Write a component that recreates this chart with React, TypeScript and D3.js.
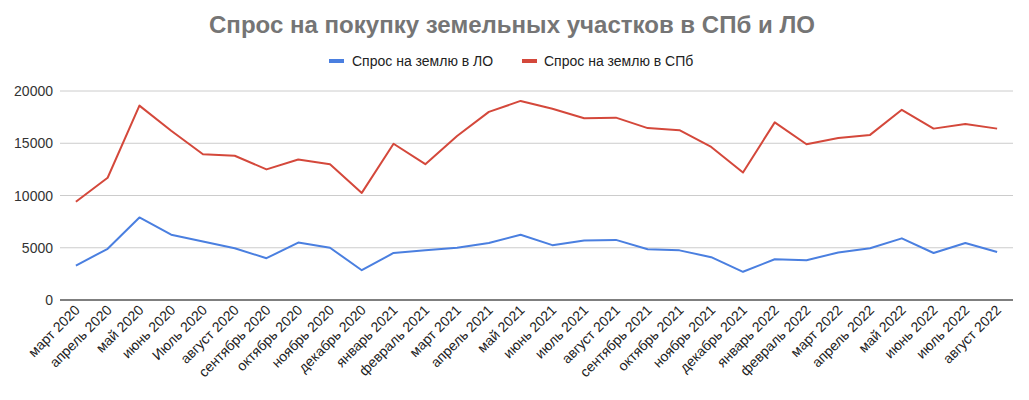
import React from "react";
import * as d3 from "d3";

const categories = [
  "март 2020", "апрель 2020", "май 2020", "июнь 2020", "Июль 2020", "август 2020",
  "сентябрь 2020", "октябрь 2020", "ноябрь 2020", "декабрь 2020", "январь 2021", "февраль 2021",
  "март 2021", "апрель 2021", "май 2021", "июнь 2021", "июль 2021", "август 2021",
  "сентябрь 2021", "октябрь 2021", "ноябрь 2021", "декабрь 2021", "январь 2022", "февраль 2022",
  "март 2022", "апрель 2022", "май 2022", "июнь 2022", "июль 2022", "август 2022",
];

const demandLO = [
  3300, 4900, 7900, 6250, 5600, 4950, 4000, 5500, 5000, 2850, 4500, 4750,
  5000, 5450, 6250, 5250, 5700, 5750, 4850, 4750, 4100, 2700, 3900, 3800,
  4550, 4950, 5900, 4500, 5450, 4600,
];

const demandSPb = [
  9400, 11700, 18600, 16200, 13950, 13800, 12500, 13450, 13000, 10250, 14950, 13000,
  15700, 18000, 19050, 18300, 17400, 17450, 16450, 16250, 14650, 12200, 17000, 14900,
  15500, 15800, 18200, 16400, 16850, 16400,
];

const yTicks = [0, 5000, 10000, 15000, 20000];

const seriesNames = ["Спрос на землю в ЛО", "Спрос на землю в СПб"];
const seriesColors = ["#4a7fe0", "#d4483b"];

const W = 1029;
const H = 400;
const M = { left: 60, right: 16, top: 91, bottom: 300 };

export default function App() {
  const x = d3.scaleBand<string>().domain(categories).range([M.left, W - M.right]);
  const y = d3.scaleLinear().domain([0, 20000]).range([M.bottom, M.top]);
  const cx = (c: string) => (x(c) as number) + x.bandwidth() / 2;
  const line = d3
    .line<number>()
    .x((_, i) => cx(categories[i]))
    .y((d) => y(d));
  const series = [demandLO, demandSPb];
  const font = "'Liberation Sans', Arial, sans-serif";

  return (
    <svg
      width={W}
      height={H}
      style={{ position: "absolute", left: 0, top: 0, background: "#fff" }}
      fontFamily={font}
    >
      <rect x={0} y={0} width={W} height={H} fill="#fff" />
      <text
        x={512}
        y={33}
        textAnchor="middle"
        fontSize={23}
        fontWeight="bold"
        fill="#757575"
        textLength={606}
        lengthAdjust="spacingAndGlyphs"
      >
        Спрос на покупку земельных участков в СПб и ЛО
      </text>
      {/* legend */}
      <g>
        <rect x={329} y={59} width={15} height={4} fill={seriesColors[0]} />
        <text x={352} y={66} fontSize={14} fill="#222">{seriesNames[0]}</text>
        <rect x={522} y={59} width={15} height={4} fill={seriesColors[1]} />
        <text x={544} y={66} fontSize={14} fill="#222">{seriesNames[1]}</text>
      </g>
      {/* grid */}
      {yTicks.map((t) => (
        <g key={t}>
          {t !== 0 && (
            <line x1={M.left} x2={W - M.right} y1={y(t)} y2={y(t)} stroke="#cccccc" strokeWidth={1} />
          )}
          <text x={53} y={y(t) + 5} textAnchor="end" fontSize={14} fill="#333">
            {t}
          </text>
        </g>
      ))}
      {series.map((s, i) => (
        <path key={i} d={line(s) || ""} fill="none" stroke={seriesColors[i]} strokeWidth={2} strokeLinejoin="round" />
      ))}
      <line x1={M.left} x2={W - M.right} y1={y(0)} y2={y(0)} stroke="#555" strokeWidth={1.3} />
      {categories.map((c) => (
        <text
          key={c}
          transform={`translate(${cx(c) + 5},${M.bottom + 11}) rotate(-45)`}
          textAnchor="end"
          fontSize={14}
          fill="#222"
        >
          {c}
        </text>
      ))}
    </svg>
  );
}
